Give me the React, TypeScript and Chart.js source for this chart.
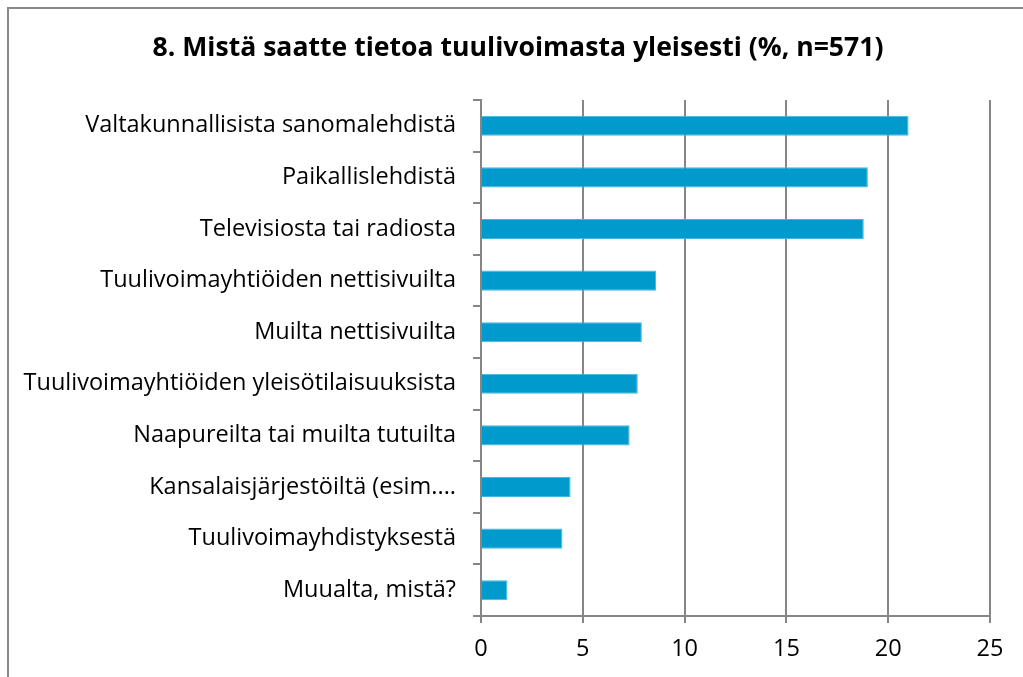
import React, { useEffect, useRef } from "react";
import { Chart, registerables } from "chart.js";

Chart.register(...registerables);

const titleText = "8. Mistä saatte tietoa tuulivoimasta yleisesti (%, n=571)";
const categories = [
  "Valtakunnallisista sanomalehdistä",
  "Paikallislehdistä",
  "Televisiosta tai radiosta",
  "Tuulivoimayhtiöiden nettisivuilta",
  "Muilta nettisivuilta",
  "Tuulivoimayhtiöiden yleisötilaisuuksista",
  "Naapureilta tai muilta tutuilta",
  "Kansalaisjärjestöiltä (esim....",
  "Tuulivoimayhdistyksestä",
  "Muualta, mistä?",
];
const values = [21.0, 19.0, 18.8, 8.6, 7.9, 7.7, 7.3, 4.4, 4.0, 1.3];
const xMin = 0;
const xMax = 25;
const xStep = 5;

const FONT = "'Open Sans'";
const GRID = "#868686";

const titlePlugin = {
  id: "customTitle",
  afterDraw(chart: any) {
    const ctx = chart.ctx;
    ctx.save();
    ctx.fillStyle = "#000";
    ctx.font = `bold 26.6px ${FONT}`;
    ctx.textAlign = "center";
    ctx.textBaseline = "middle";
    ctx.fillText(titleText, 518, 48);
    ctx.restore();
  },
};

export default function App() {
  const ref = useRef<HTMLCanvasElement>(null);
  useEffect(() => {
    if (!ref.current) return;
    const chart = new Chart(ref.current, {
      type: "bar",
      data: {
        labels: categories,
        datasets: [
          {
            data: values,
            backgroundColor: "#009BCC",
            borderColor: "#3DB8E3",
            borderWidth: 1,
            barPercentage: 0.39,
            categoryPercentage: 1,
          },
        ],
      },
      plugins: [titlePlugin],
      options: {
        indexAxis: "y",
        responsive: false,
        animation: false,
        layout: { padding: { left: 0, right: 33, top: 100, bottom: 0 } },
        plugins: {
          legend: { display: false },
          tooltip: { enabled: false },
          title: { display: false },
        },
        scales: {
          x: {
            min: xMin,
            max: xMax,
            ticks: {
              stepSize: xStep,
              color: "#000",
              font: { family: FONT, size: 23.5 },
              padding: 12,
              maxRotation: 0,
            },
            grid: { color: GRID, lineWidth: 2, tickLength: 7, drawOnChartArea: true },
            border: { display: true, color: GRID, width: 2 },
            afterFit: (s: any) => {
              s.height = 61;
            },
          },
          y: {
            offset: true,
            ticks: {
              color: "#000",
              font: { family: FONT, size: 23.5 },
              padding: 17,
              autoSkip: false,
            },
            grid: { color: GRID, lineWidth: 2, tickLength: 8, drawOnChartArea: false, offset: true },
            border: { display: true, color: GRID, width: 2 },
            afterFit: (s: any) => {
              s.width = 481;
            },
          },
        },
      },
    });
    return () => chart.destroy();
  }, []);
  return (
    <div style={{ position: "fixed", left: 0, top: 0, width: 1023, height: 677, overflow: "hidden", background: "#fff" }}>
      <div
        style={{
          position: "absolute",
          left: 7,
          top: 7,
          width: 1030,
          height: 690,
          borderLeft: "2.5px solid #8a8a8a",
          borderTop: "2.5px solid #8a8a8a",
        }}
      />
      <canvas ref={ref} width={1023} height={677} style={{ position: "absolute", left: 0, top: 0 }} />
    </div>
  );
}
